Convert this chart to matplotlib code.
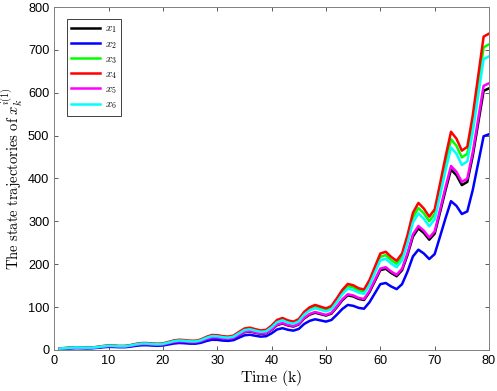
import matplotlib.pyplot as plt
import numpy as np

plt.rcParams['mathtext.fontset'] = 'cm'
plt.rcParams['font.family'] = ['Liberation Sans', 'DejaVu Sans']

# time steps
k = np.arange(1, 81)

# state trajectories
x1 = [2.89, 3.72, 4.55, 5.13, 4.96, 4.63, 4.80, 6.04, 7.61, 8.68,
      8.44, 7.69, 7.77, 9.26, 11.58, 13.23, 13.40, 12.41, 11.83, 12.57,
      15.30, 18.19, 19.68, 19.02, 17.78, 17.70, 20.26, 25.22, 28.78, 28.53,
      26.46, 25.64, 27.70, 34.73, 41.35, 43.00, 40.11, 37.63, 38.87, 47.14,
      57.89, 61.61, 57.06, 54.58, 59.54, 73.60, 82.29, 86.84, 83.53, 80.22,
      84.77, 99.65, 115.8, 127.4, 124.9, 119.1, 116.6, 134.8, 160.4, 186.1,
      189.4, 179.5, 172.0, 186.1, 221.6, 264.6, 283.7, 272.9, 257.2, 271.3,
      321.7, 373.0, 420.9, 407.7, 384.6, 392.0, 452.4, 528.5, 604.5, 610.3]
x2 = [2.39, 3.07, 3.75, 4.23, 4.09, 3.82, 3.96, 4.98, 6.27, 7.16,
      6.96, 6.34, 6.41, 7.64, 9.55, 10.91, 11.05, 10.23, 9.75, 10.37,
      12.62, 15.00, 16.23, 15.69, 14.66, 14.59, 16.71, 20.80, 23.73, 23.53,
      21.82, 21.14, 22.85, 28.64, 34.10, 35.46, 33.08, 31.03, 32.05, 38.87,
      47.74, 50.81, 47.06, 45.01, 49.10, 60.70, 67.86, 71.61, 68.88, 66.15,
      69.91, 82.18, 95.48, 105.0, 103.0, 98.21, 96.16, 111.2, 132.3, 153.5,
      156.2, 148.0, 141.9, 153.5, 182.8, 218.2, 233.9, 225.1, 212.1, 223.7,
      265.3, 307.6, 347.1, 336.2, 317.1, 323.3, 373.1, 435.8, 498.5, 503.3]
x3 = [3.38, 4.35, 5.31, 5.99, 5.80, 5.41, 5.60, 7.05, 8.89, 10.14,
      9.85, 8.98, 9.08, 10.82, 13.52, 15.46, 15.65, 14.49, 13.81, 14.68,
      17.87, 21.25, 22.99, 22.22, 20.77, 20.67, 23.67, 29.46, 33.62, 33.33,
      30.91, 29.95, 32.36, 40.57, 48.30, 50.23, 46.85, 43.95, 45.40, 55.06,
      67.62, 71.97, 66.65, 63.76, 69.55, 85.97, 96.12, 101.4, 97.57, 93.70,
      99.02, 116.4, 135.2, 148.8, 145.9, 139.1, 136.2, 157.5, 187.4, 217.4,
      221.2, 209.6, 200.9, 217.4, 258.9, 309.1, 331.3, 318.8, 300.4, 316.8,
      375.8, 435.7, 491.7, 476.2, 449.2, 457.9, 528.4, 617.3, 706.1, 712.9]
x4 = [3.5, 4.5, 5.5, 6.2, 6.0, 5.6, 5.8, 7.3, 9.2, 10.5,
      10.2, 9.3, 9.4, 11.2, 14.0, 16.0, 16.2, 15.0, 14.3, 15.2,
      18.5, 22.0, 23.8, 23.0, 21.5, 21.4, 24.5, 30.5, 34.8, 34.5,
      32.0, 31.0, 33.5, 42.0, 50.0, 52.0, 48.5, 45.5, 47.0, 57.0,
      70.0, 74.5, 69.0, 66.0, 72.0, 89.0, 99.5, 105.0, 101.0, 97.0,
      102.5, 120.5, 140.0, 154.0, 151.0, 144.0, 141.0, 163.0, 194.0, 225.0,
      229.0, 217.0, 208.0, 225.0, 268.0, 320.0, 343.0, 330.0, 311.0, 328.0,
      389.0, 451.0, 509.0, 493.0, 465.0, 474.0, 547.0, 639.0, 731.0, 738.0]
x5 = [2.95, 3.79, 4.64, 5.23, 5.06, 4.72, 4.89, 6.15, 7.76, 8.85,
      8.60, 7.84, 7.92, 9.44, 11.80, 13.49, 13.66, 12.65, 12.05, 12.81,
      15.60, 18.55, 20.06, 19.39, 18.12, 18.04, 20.65, 25.71, 29.34, 29.08,
      26.98, 26.13, 28.24, 35.41, 42.15, 43.84, 40.89, 38.36, 39.62, 48.05,
      59.01, 62.80, 58.17, 55.64, 60.70, 75.03, 83.88, 88.52, 85.14, 81.77,
      86.41, 101.6, 118.0, 129.8, 127.3, 121.4, 118.9, 137.4, 163.5, 189.7,
      193.0, 182.9, 175.3, 189.7, 225.9, 269.8, 289.1, 278.2, 262.2, 276.5,
      327.9, 380.2, 429.1, 415.6, 392.0, 399.6, 461.1, 538.7, 616.2, 622.1]
x6 = [3.25, 4.18, 5.10, 5.75, 5.57, 5.20, 5.38, 6.77, 8.54, 9.74,
      9.47, 8.63, 8.72, 10.39, 12.99, 14.85, 15.03, 13.92, 13.27, 14.11,
      17.17, 20.42, 22.09, 21.34, 19.95, 19.86, 22.74, 28.30, 32.29, 32.02,
      29.70, 28.77, 31.09, 38.98, 46.40, 48.26, 45.01, 42.22, 43.62, 52.90,
      64.96, 69.14, 64.03, 61.25, 66.82, 82.59, 92.34, 97.44, 93.73, 90.02,
      95.12, 111.8, 129.9, 142.9, 140.1, 133.6, 130.9, 151.3, 180.0, 208.8,
      212.5, 201.4, 193.0, 208.8, 248.7, 297.0, 318.3, 306.2, 288.6, 304.4,
      361.0, 418.5, 472.4, 457.5, 431.5, 439.9, 507.6, 593.0, 678.4, 684.9]

series = [x1, x2, x3, x4, x5, x6]
names = [r'$x_1$', r'$x_2$', r'$x_3$', r'$x_4$', r'$x_5$', r'$x_6$']
colors = ['#000000', '#0000ff', '#00ff00', '#ff0000', '#ff00ff', '#00ffff']

fig = plt.figure(figsize=(4.97, 3.91), dpi=100)
ax = fig.add_axes([0.109, 0.105, 0.875, 0.877])

for y, name, c in zip(series, names, colors):
    ax.plot(k, y, color=c, lw=1.8, label=name)

ax.set_xlim(0, 80)
ax.set_ylim(0, 800)
ax.set_xticks(np.arange(0, 81, 10))
ax.set_yticks(np.arange(0, 801, 100))
ax.tick_params(direction='in', top=True, right=True, labelsize=9.2, length=3, width=0.6, color='#404040')
for s in ax.spines.values():
    s.set_color('#808080')
    s.set_linewidth(0.7)

ax.set_xlabel(r'$\mathrm{Time\ (k)}$', fontsize=11.5, labelpad=1)
ax.set_ylabel(r'$\mathrm{The\ state\ trajectories\ of\ }x_k^{i(1)}$', fontsize=10.5, labelpad=2)

leg = ax.legend(loc='upper left', bbox_to_anchor=(0.029, 0.965), borderaxespad=0,
                fontsize=8, handlelength=2.6, handletextpad=0.4, labelspacing=0.3,
                fancybox=False, framealpha=1, borderpad=0.4)
leg.get_frame().set_edgecolor('#404040')
leg.get_frame().set_linewidth(0.7)

fig.savefig('out.png', dpi=100)
